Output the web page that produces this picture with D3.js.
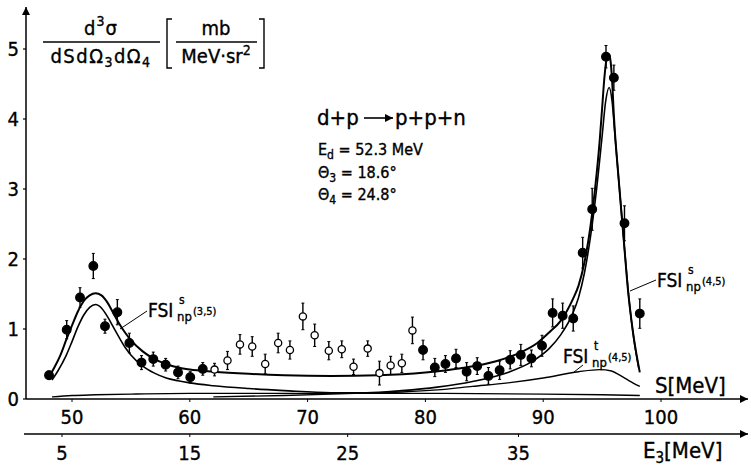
<!DOCTYPE html>
<html>
<head>
<meta charset="utf-8">
<script src="https://cdn.jsdelivr.net/npm/d3@7"></script>
<style>
  html, body { margin: 0; padding: 0; background: #fff; }
  svg { display: block; }
  text { font-family: "DejaVu Sans Condensed", "Liberation Sans Narrow", "DejaVu Sans", sans-serif; fill: #000; stroke: #000; stroke-width: 0.35; }
</style>
</head>
<body>
<svg id="chart" width="751" height="468"></svg>
<script>
// Cross section d3σ/dSdΩ3dΩ4 along the kinematic locus S for d+p -> p+p+n

// measured points: S [MeV], value [mb/(MeV sr^2)], error
const filledS   = [48.05, 49.55, 50.68, 51.81, 52.8, 53.85, 54.87, 55.9, 56.9, 57.95, 59.0, 60.04, 61.1,
                   79.8, 80.8, 81.7, 82.6, 83.5, 84.4, 85.35, 86.3, 87.2, 88.1, 89.0, 89.9, 90.8, 91.65, 92.55,
                   93.35, 94.16, 95.33, 96.0, 96.9, 98.2];
const filledV   = [0.34, 0.99, 1.45, 1.90, 1.04, 1.24, 0.80, 0.52, 0.57, 0.49, 0.38, 0.31, 0.43,
                   0.70, 0.45, 0.50, 0.58, 0.39, 0.47, 0.33, 0.41, 0.56, 0.63, 0.58, 0.76, 1.23, 1.19, 1.15,
                   2.09, 2.71, 4.89, 4.59, 2.51, 1.22];
const filledErr = [0.06, 0.13, 0.14, 0.18, 0.10, 0.18, 0.14, 0.10, 0.10, 0.09, 0.09, 0.08, 0.09,
                   0.14, 0.13, 0.12, 0.13, 0.13, 0.12, 0.12, 0.13, 0.13, 0.15, 0.12, 0.15, 0.20, 0.18, 0.18,
                   0.22, 0.30, 0.16, 0.18, 0.25, 0.21];

const openS   = [62.1, 63.2, 64.26, 65.3, 66.4, 67.5, 68.5, 69.6, 70.6, 71.8, 72.9, 73.9, 75.1, 76.1, 77.05, 78.0, 78.9];
const openV   = [0.42, 0.55, 0.78, 0.75, 0.50, 0.80, 0.70, 1.18, 0.91, 0.69, 0.71, 0.46, 0.72, 0.37, 0.48, 0.51, 0.98];
const openErr = [0.09, 0.13, 0.14, 0.14, 0.14, 0.14, 0.13, 0.19, 0.16, 0.13, 0.12, 0.11, 0.11, 0.17, 0.13, 0.13, 0.19];

// calculated curves
const totalS = [48.0, 48.5, 49.0, 49.5, 50.0, 50.5, 51.0, 51.5, 52.0, 52.5, 53.0, 53.5, 54.0, 54.5, 55.0, 56.0, 57.0, 58.0,
                59.0, 60.0, 62.0, 65.0, 68.0, 72.0, 76.0, 80.0, 83.0, 86.0, 88.0, 89.5, 90.5, 91.5, 92.5, 93.0,
                93.5, 94.0, 94.4, 94.8, 95.0, 95.2, 95.4, 95.55, 95.7, 95.85, 96.0, 96.4, 96.85, 97.2, 97.6, 98.2];
const totalV = [0.30, 0.45, 0.62, 0.84, 1.05, 1.25, 1.40, 1.48, 1.51, 1.48, 1.38, 1.23, 1.08, 0.95, 0.84, 0.68, 0.57, 0.50,
                0.45, 0.42, 0.39, 0.36, 0.34, 0.33, 0.34, 0.38, 0.44, 0.54, 0.66, 0.80, 0.95, 1.12, 1.42, 1.62,
                1.95, 2.45, 3.00, 3.70, 4.15, 4.60, 4.88, 4.93, 4.85, 4.55, 4.05, 3.15, 2.25, 1.55, 0.98, 0.38];

const singS = [48.3, 48.8, 49.5, 50.0, 50.5, 51.0, 51.5, 52.0, 52.5, 53.0, 53.5, 54.0, 54.5, 55.0, 56.0, 57.0, 58.0, 59.0,
               60.0, 62.0, 65.0, 68.0, 72.0, 75.0, 78.0, 81.0, 84.0, 87.0, 89.0, 90.5, 91.5, 92.5, 93.0, 93.5,
               94.0, 94.5, 95.0, 95.3, 95.6, 95.85, 96.1, 96.5, 96.9, 97.3, 97.7, 98.1];
const singV = [0.27, 0.40, 0.62, 0.82, 1.03, 1.20, 1.31, 1.35, 1.30, 1.18, 1.03, 0.88, 0.74, 0.63, 0.47, 0.37, 0.30, 0.26,
               0.23, 0.19, 0.15, 0.12, 0.09, 0.09, 0.12, 0.17, 0.25, 0.38, 0.53, 0.72, 0.92, 1.22, 1.45, 1.80,
               2.30, 2.95, 3.75, 4.25, 4.45, 4.25, 3.75, 2.95, 2.15, 1.40, 0.85, 0.45];

const tripS = [62.0, 68.0, 74.0, 78.0, 81.0, 84.0, 87.0, 90.0, 93.0, 94.8, 95.8, 96.5, 97.3, 98.2];
const tripV = [0.03, 0.05, 0.08, 0.10, 0.13, 0.18, 0.23, 0.30, 0.39, 0.42, 0.40, 0.34, 0.26, 0.18];

const baseS = [48.3, 50.0, 52.0, 55.0, 60.0, 70.0, 80.0, 90.0, 95.0, 98.2];
const baseV = [0.03, 0.05, 0.06, 0.07, 0.08, 0.08, 0.08, 0.07, 0.06, 0.05];

// axis ticks
const yTicks = [0, 1, 2, 3, 4, 5];
const sTicks = [50, 60, 70, 80, 90, 100];
const e3Labels = ["5", "15", "25", "35"];
const e3AtS = [49.15, 60.0, 73.4, 87.9];   // S position of each E3 value

const svg = d3.select("#chart");
const x = d3.scaleLinear().domain([50, 100]).range([72, 661]);
const y = d3.scaleLinear().domain([0, 5]).range([399, 49]);

const ink = "#000";

// arrowhead marker
svg.append("defs").append("marker")
  .attr("id", "arrow").attr("viewBox", "0 0 10 10").attr("refX", 10).attr("refY", 5)
  .attr("markerWidth", 20).attr("markerHeight", 8).attr("markerUnits", "userSpaceOnUse")
  .attr("orient", "auto")
  .append("path").attr("d", "M0,0 L10,5 L0,10 Z").attr("fill", ink);

// y axis
svg.append("line").attr("x1", 26).attr("y1", 399).attr("x2", 26).attr("y2", 7)
  .attr("stroke", ink).attr("stroke-width", 1.5).attr("marker-end", "url(#arrow)");
svg.selectAll(".ytick").data(yTicks).enter().append("line")
  .attr("x1", 23).attr("x2", 26).attr("y1", d => y(d)).attr("y2", d => y(d))
  .attr("stroke", ink).attr("stroke-width", 1.2);
svg.selectAll(".ylab").data(yTicks).enter().append("text")
  .attr("x", 19).attr("y", d => y(d) + 7).attr("text-anchor", "end")
  .attr("font-size", 20).text(d => d);

// S axis
svg.append("line").attr("x1", 26).attr("y1", 399).attr("x2", 748).attr("y2", 399)
  .attr("stroke", ink).attr("stroke-width", 1.5).attr("marker-end", "url(#arrow)");
svg.selectAll(".stick").data(sTicks).enter().append("line")
  .attr("x1", d => x(d)).attr("x2", d => x(d)).attr("y1", 399).attr("y2", 402)
  .attr("stroke", ink).attr("stroke-width", 1);
svg.selectAll(".slab").data(sTicks).enter().append("text")
  .attr("x", d => x(d)).attr("y", 424).attr("text-anchor", "middle")
  .attr("font-size", 20).text(d => d);
svg.append("text").attr("x", 655).attr("y", 393).attr("font-size", 22).text("S[MeV]");

// E3 axis
svg.append("line").attr("x1", 24).attr("y1", 434).attr("x2", 748).attr("y2", 434)
  .attr("stroke", ink).attr("stroke-width", 1.5).attr("marker-end", "url(#arrow)");
svg.selectAll(".etick").data(e3AtS).enter().append("line")
  .attr("x1", d => x(d)).attr("x2", d => x(d)).attr("y1", 434).attr("y2", 437)
  .attr("stroke", ink).attr("stroke-width", 1);
svg.selectAll(".elab").data(e3Labels).enter().append("text")
  .attr("x", (d, i) => x(e3AtS[i])).attr("y", 460).attr("text-anchor", "middle")
  .attr("font-size", 20).text(d => d);
const e3t = svg.append("text").attr("x", 643).attr("y", 458).attr("font-size", 22);
e3t.append("tspan").text("E");
e3t.append("tspan").attr("font-size", 15).attr("dy", 5).text("3");
e3t.append("tspan").attr("dy", -5).text("[MeV]");

// y-axis quantity: fraction with units
const frac = svg.append("g");
const num = frac.append("text").attr("x", 101).attr("y", 35).attr("text-anchor", "middle")
  .attr("font-size", 20).attr("letter-spacing", 1);
num.append("tspan").text("d");
num.append("tspan").attr("font-size", 14).attr("dy", -9).text("3");
num.append("tspan").attr("dy", 9).text("σ");
frac.append("line").attr("x1", 43).attr("x2", 160).attr("y1", 42).attr("y2", 42).attr("stroke", ink).attr("stroke-width", 1.3);
const den = frac.append("text").attr("x", 101).attr("y", 63).attr("text-anchor", "middle")
  .attr("font-size", 20).attr("letter-spacing", 1.5);
den.append("tspan").text("dSdΩ");
den.append("tspan").attr("font-size", 14).attr("dy", 4).text("3");
den.append("tspan").attr("dy", -4).text("dΩ");
den.append("tspan").attr("font-size", 14).attr("dy", 4).text("4");
frac.append("path").attr("d", "M172,19 L167,19 L167,68 L172,68").attr("fill", "none").attr("stroke", ink).attr("stroke-width", 1.4);
frac.append("text").attr("x", 216).attr("y", 35).attr("text-anchor", "middle").attr("font-size", 20).text("mb");
frac.append("line").attr("x1", 176).attr("x2", 257).attr("y1", 42).attr("y2", 42).attr("stroke", ink).attr("stroke-width", 1.3);
const un = frac.append("text").attr("x", 216).attr("y", 63).attr("text-anchor", "middle").attr("font-size", 20);
un.append("tspan").text("MeV·sr");
un.append("tspan").attr("font-size", 14).attr("dy", -8).text("2");
frac.append("path").attr("d", "M259,19 L264,19 L264,68 L259,68").attr("fill", "none").attr("stroke", ink).attr("stroke-width", 1.4);

// reaction and kinematics
svg.append("text").attr("x", 317).attr("y", 125).attr("font-size", 22).text("d+p");
svg.append("line").attr("x1", 364).attr("x2", 393).attr("y1", 118).attr("y2", 118)
  .attr("stroke", ink).attr("stroke-width", 1.6).attr("marker-end", "url(#arrow)");
svg.append("text").attr("x", 395).attr("y", 125).attr("font-size", 22).text("p+p+n");
const ed = svg.append("text").attr("x", 318).attr("y", 155).attr("font-size", 16);
ed.append("tspan").text("E");
ed.append("tspan").attr("font-size", 12).attr("dy", 4).text("d");
ed.append("tspan").attr("dy", -4).text(" = 52.3 MeV");
const th3 = svg.append("text").attr("x", 318).attr("y", 178).attr("font-size", 16);
th3.append("tspan").text("Θ");
th3.append("tspan").attr("font-size", 12).attr("dy", 4).text("3");
th3.append("tspan").attr("dy", -4).text(" = 18.6°");
const th4 = svg.append("text").attr("x", 318).attr("y", 200).attr("font-size", 16);
th4.append("tspan").text("Θ");
th4.append("tspan").attr("font-size", 12).attr("dy", 4).text("4");
th4.append("tspan").attr("dy", -4).text(" = 24.8°");

// curves
const line = d3.line().x(d => x(d[0])).y(d => y(d[1])).curve(d3.curveMonotoneX);
const curves = [
  [totalS, totalV, 2],
  [singS, singV, 1.6],
  [tripS, tripV, 1.4],
  [baseS, baseV, 1.4]
];
curves.forEach(([s, v, w]) => {
  svg.append("path").datum(s.map((d, i) => [d, v[i]]))
    .attr("d", line).attr("fill", "none").attr("stroke", ink).attr("stroke-width", w);
});

// curve labels: "FSI" with spin superscript, "np" subscript and pair index
function fsiLabel(x0, yb, sup, ind) {
  svg.append("text").attr("x", x0).attr("y", yb).attr("font-size", 19).text("FSI");
  svg.append("text").attr("x", x0 + 31).attr("y", yb - 13).attr("font-size", 12).text(sup);
  svg.append("text").attr("x", x0 + 29).attr("y", yb + 4).attr("font-size", 13).text("np");
  svg.append("text").attr("x", x0 + 45).attr("y", yb - 2).attr("font-size", 11).text(ind);
}
fsiLabel(148, 317, "s", "(3,5)");
svg.append("line").attr("x1", 147).attr("y1", 311).attr("x2", 120).attr("y2", 329).attr("stroke", ink).attr("stroke-width", 1);
fsiLabel(657, 287, "s", "(4,5)");
svg.append("line").attr("x1", 656).attr("y1", 280).attr("x2", 630).attr("y2", 291).attr("stroke", ink).attr("stroke-width", 1);
fsiLabel(563, 363, "t", "(4,5)");
svg.append("line").attr("x1", 583).attr("y1", 365).attr("x2", 574).attr("y2", 372).attr("stroke", ink).attr("stroke-width", 1);

// data points with error bars
function points(S, V, E, filled) {
  const g = svg.append("g");
  const pts = S.map((d, i) => ({ s: d, v: V[i], e: E[i] }));
  g.selectAll(".eb").data(pts).enter().append("line")
    .attr("x1", d => x(d.s)).attr("x2", d => x(d.s))
    .attr("y1", d => y(d.v + d.e)).attr("y2", d => y(d.v - d.e))
    .attr("stroke", ink).attr("stroke-width", 1.4);
  g.selectAll(".cap").data(pts.flatMap(d => [d.v + d.e, d.v - d.e].map(v => ({ s: d.s, v })))).enter().append("line")
    .attr("x1", d => x(d.s) - 1.5).attr("x2", d => x(d.s) + 1.5)
    .attr("y1", d => y(d.v)).attr("y2", d => y(d.v))
    .attr("stroke", ink).attr("stroke-width", 1);
  g.selectAll(".pt").data(pts).enter().append("circle")
    .attr("cx", d => x(d.s)).attr("cy", d => y(d.v))
    .attr("r", filled ? 4.3 : 3.6)
    .attr("fill", filled ? ink : "#fff").attr("stroke", ink).attr("stroke-width", 1.3);
}
points(filledS, filledV, filledErr, true);
points(openS, openV, openErr, false);
</script>
</body>
</html>
